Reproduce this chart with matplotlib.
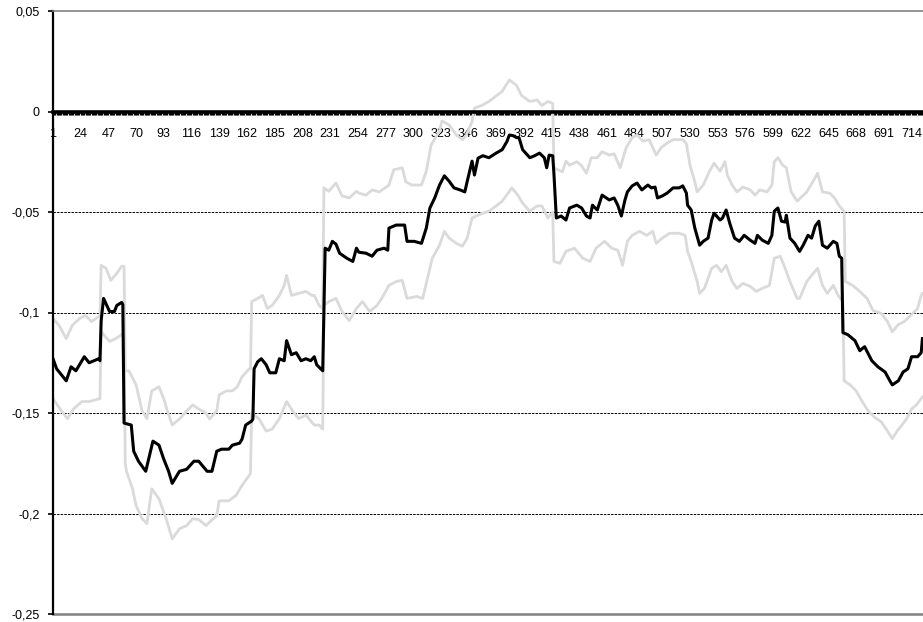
import matplotlib
matplotlib.use("Agg")
import matplotlib.pyplot as plt
import numpy as np

plt.rcParams['font.family'] = ['Liberation Sans', 'DejaVu Sans']

# series: (category index, value)
mid_x = [1, 4, 12, 16, 20, 27, 31, 39, 40, 41, 43, 48, 52, 54, 58, 59, 60, 66, 68, 72, 78, 82, 84, 89, 93, 97,
         100, 106, 112, 118, 122, 129, 133, 137, 141, 147, 150, 156, 158, 161, 166, 167, 168, 171, 174, 178, 181,
         186, 189, 193, 195, 199, 203, 207, 211, 215, 218, 220, 225, 227, 230, 233, 236, 239, 245, 250, 253, 255,
         261, 266, 270, 276, 279, 280, 286, 293, 295, 301, 307, 311, 314, 318, 322, 326, 330, 334, 339, 343, 345,
         349, 351, 354, 358, 363, 369, 374, 378, 380, 383, 386, 388, 391, 397, 401, 405, 409, 411, 413, 416, 417,
         419, 423, 427, 430, 436, 440, 444, 447, 449, 453, 457, 463, 467, 470, 473, 476, 478, 482, 486, 490, 495,
         498, 501, 503, 507, 511, 516, 521, 524, 527, 528, 531, 534, 538, 541, 545, 548, 550, 555, 557, 560, 563,
         567, 571, 575, 580, 584, 586, 590, 595, 598, 600, 603, 606, 609, 610, 613, 617, 621, 624, 628, 631, 634,
         637, 640, 644, 649, 652, 654, 656, 657, 661, 667, 671, 675, 681, 686, 692, 696, 698, 703, 707, 711, 714,
         719, 722, 723]
mid_y = [-0.123, -0.128, -0.134, -0.127, -0.129, -0.122, -0.125, -0.123, -0.124, -0.104, -0.093, -0.0995, -0.0995,
         -0.0965, -0.095, -0.096, -0.155, -0.156, -0.169, -0.174, -0.179, -0.169, -0.164, -0.166, -0.173, -0.179,
         -0.185, -0.179, -0.178, -0.174, -0.174, -0.179, -0.179, -0.169, -0.168, -0.168, -0.166, -0.165, -0.163,
         -0.156, -0.154, -0.153, -0.128, -0.1245, -0.123, -0.126, -0.130, -0.130, -0.123, -0.124, -0.114, -0.121,
         -0.120, -0.124, -0.123, -0.124, -0.122, -0.126, -0.129, -0.068, -0.069, -0.0646, -0.066, -0.0705, -0.073,
         -0.0746, -0.068, -0.070, -0.0705, -0.072, -0.069, -0.068, -0.069, -0.058, -0.0565, -0.0565, -0.0646,
         -0.0646, -0.0656, -0.058, -0.048, -0.043, -0.0366, -0.032, -0.0347, -0.038, -0.039, -0.040, -0.0347,
         -0.0247, -0.0316, -0.0232, -0.022, -0.023, -0.0207, -0.019, -0.0149, -0.0117, -0.012, -0.013, -0.013,
         -0.019, -0.023, -0.022, -0.0207, -0.023, -0.028, -0.0217, -0.022, -0.031, -0.053, -0.052, -0.054, -0.048,
         -0.0466, -0.048, -0.052, -0.053, -0.0466, -0.049, -0.0416, -0.044, -0.043, -0.0466, -0.052, -0.044,
         -0.040, -0.037, -0.0356, -0.039, -0.0366, -0.038, -0.0376, -0.043, -0.042, -0.0406, -0.038, -0.038,
         -0.037, -0.0406, -0.0466, -0.049, -0.058, -0.0665, -0.0646, -0.063, -0.054, -0.0506, -0.054, -0.053,
         -0.049, -0.0556, -0.063, -0.0646, -0.0616, -0.064, -0.0656, -0.0616, -0.064, -0.0656, -0.0616, -0.0496,
         -0.048, -0.0546, -0.055, -0.0516, -0.063, -0.0656, -0.0696, -0.0665, -0.0616, -0.063, -0.057, -0.0546,
         -0.0665, -0.068, -0.0646, -0.0656, -0.072, -0.073, -0.110, -0.111, -0.114, -0.119, -0.117, -0.124,
         -0.127, -0.1296, -0.134, -0.136, -0.134, -0.1296, -0.128, -0.122, -0.122, -0.120, -0.113]

up_x = [1, 6, 12, 17, 23, 28, 33, 39, 40, 41, 45, 49, 54, 58, 60, 61, 64, 70, 75, 79, 83, 89, 93, 96, 100, 106,
        112, 117, 122, 128, 131, 137, 139, 145, 150, 154, 158, 164, 165, 166, 171, 175, 179, 183, 189, 193, 195,
        199, 205, 211, 216, 218, 222, 225, 226, 230, 236, 241, 247, 253, 255, 261, 266, 272, 280, 284, 291, 294,
        299, 307, 311, 315, 322, 324, 330, 336, 341, 344, 349, 351, 357, 363, 369, 374, 380, 386, 390, 397, 403,
        407, 412, 416, 417, 424, 427, 430, 436, 440, 444, 448, 453, 457, 463, 467, 472, 477, 482, 486, 491, 496,
        502, 506, 511, 516, 524, 527, 530, 534, 536, 541, 546, 550, 555, 559, 561, 565, 569, 574, 580, 584, 588,
        594, 598, 600, 603, 607, 610, 614, 619, 627, 632, 636, 640, 646, 650, 654, 658, 659, 665, 671, 677, 682,
        689, 694, 698, 703, 708, 714, 719, 722, 723]
up_y = [-0.103, -0.1064, -0.113, -0.1064, -0.103, -0.1015, -0.1045, -0.102, -0.102, -0.0765, -0.078, -0.084,
        -0.0805, -0.077, -0.077, -0.129, -0.129, -0.136, -0.149, -0.1528, -0.139, -0.137, -0.143, -0.149, -0.156,
        -0.153, -0.149, -0.146, -0.148, -0.150, -0.153, -0.149, -0.141, -0.139, -0.139, -0.137, -0.132, -0.128,
        -0.128, -0.0946, -0.093, -0.0915, -0.098, -0.0965, -0.0915, -0.0865, -0.0815, -0.0915, -0.0905, -0.0895,
        -0.0915, -0.0915, -0.0965, -0.098, -0.038, -0.0397, -0.0356, -0.042, -0.043, -0.0397, -0.0406, -0.0416,
        -0.039, -0.040, -0.0366, -0.029, -0.028, -0.035, -0.0366, -0.0366, -0.0297, -0.0167, -0.0097, -0.0047,
        -0.0067, -0.0117, -0.014, -0.012, -0.005, 0.0017, 0.003, 0.005, 0.0077, 0.010, 0.0157, 0.013, 0.008,
        0.005, 0.0057, 0.003, 0.005, 0.004, -0.028, -0.030, -0.0247, -0.0267, -0.025, -0.027, -0.0307, -0.023,
        -0.023, -0.020, -0.0217, -0.021, -0.028, -0.018, -0.013, -0.0117, -0.0147, -0.014, -0.0217, -0.018,
        -0.0157, -0.014, -0.014, -0.016, -0.0267, -0.035, -0.040, -0.0366, -0.030, -0.0257, -0.0297, -0.025,
        -0.0316, -0.0366, -0.040, -0.0376, -0.039, -0.0416, -0.039, -0.040, -0.0366, -0.025, -0.023, -0.0267,
        -0.028, -0.040, -0.0446, -0.040, -0.035, -0.0307, -0.040, -0.0406, -0.043, -0.047, -0.0496, -0.0846,
        -0.0865, -0.0895, -0.093, -0.099, -0.1005, -0.1045, -0.1096, -0.106, -0.1045, -0.101, -0.098, -0.0915,
        -0.0905]

lo_x = [1, 8, 13, 18, 25, 31, 39, 40, 41, 48, 53, 58, 60, 61, 62, 67, 70, 75, 79, 83, 89, 95, 100, 106, 112, 117,
        122, 128, 137, 139, 147, 153, 158, 164, 165, 166, 172, 178, 183, 189, 195, 200, 205, 211, 218, 222, 225,
        226, 230, 236, 241, 247, 253, 258, 264, 270, 274, 280, 286, 291, 295, 303, 308, 312, 316, 322, 326, 330,
        336, 341, 345, 349, 354, 358, 363, 369, 374, 379, 382, 387, 391, 397, 403, 407, 412, 416, 417, 422, 427,
        434, 441, 447, 452, 459, 465, 470, 474, 478, 482, 488, 494, 499, 502, 507, 513, 521, 526, 528, 531, 536,
        538, 542, 548, 552, 556, 560, 565, 569, 574, 580, 585, 590, 596, 600, 605, 609, 613, 619, 621, 627, 631,
        636, 640, 644, 649, 653, 657, 658, 663, 668, 673, 678, 683, 689, 694, 698, 702, 706, 710, 714, 718, 722,
        723]
lo_y = [-0.1428, -0.149, -0.1528, -0.148, -0.1443, -0.1443, -0.143, -0.143, -0.1096, -0.1144, -0.113, -0.111,
        -0.111, -0.175, -0.179, -0.1877, -0.196, -0.2026, -0.205, -0.1877, -0.1927, -0.2026, -0.2126, -0.2076,
        -0.206, -0.2026, -0.203, -0.206, -0.201, -0.1937, -0.1937, -0.191, -0.186, -0.181, -0.180, -0.150,
        -0.1528, -0.159, -0.158, -0.1528, -0.1443, -0.149, -0.1528, -0.151, -0.156, -0.156, -0.158, -0.0965,
        -0.0946, -0.093, -0.0995, -0.104, -0.098, -0.0946, -0.0995, -0.0965, -0.093, -0.0865, -0.0846, -0.084,
        -0.093, -0.092, -0.093, -0.083, -0.073, -0.0665, -0.0596, -0.063, -0.0656, -0.067, -0.063, -0.053,
        -0.0516, -0.0506, -0.0496, -0.047, -0.0446, -0.0406, -0.038, -0.0416, -0.0456, -0.0496, -0.047, -0.047,
        -0.053, -0.050, -0.0746, -0.0755, -0.0696, -0.068, -0.073, -0.0746, -0.068, -0.0646, -0.068, -0.069,
        -0.0765, -0.0646, -0.0616, -0.0596, -0.0616, -0.0596, -0.0656, -0.063, -0.0606, -0.0606, -0.0616,
        -0.0696, -0.0746, -0.0846, -0.0905, -0.088, -0.078, -0.0765, -0.0797, -0.0765, -0.0846, -0.088, -0.0855,
        -0.087, -0.0895, -0.088, -0.0865, -0.073, -0.072, -0.078, -0.0846, -0.093, -0.093, -0.0846, -0.0815,
        -0.078, -0.0865, -0.0905, -0.0865, -0.0915, -0.0946, -0.134, -0.136, -0.139, -0.1443, -0.149, -0.152,
        -0.1545, -0.159, -0.1628, -0.159, -0.156, -0.1528, -0.148, -0.146, -0.1428, -0.142]

x_ticks = list(range(1, 715, 23))
y_ticks = [0.05, 0, -0.05, -0.1, -0.15, -0.2, -0.25]
y_labels = ['0,05', '0', '-0,05', '-0,1', '-0,15', '-0,2', '-0,25']

fig = plt.figure(figsize=(9.23, 6.22), dpi=100)
fig.set_facecolor('white')
ax = fig.add_axes([53 / 923, 8 / 622, 870 / 923, 603 / 622])

ax.plot(up_x, up_y, color='#dadada', lw=2.0, zorder=2)
ax.plot(lo_x, lo_y, color='#dadada', lw=2.0, zorder=2)
ax.plot(mid_x, mid_y, color='black', lw=2.2, zorder=3)

ax.set_xlim(1, 723.5)
ax.set_ylim(-0.25, 0.05)

# dashed gridlines
for g in [-0.05, -0.1, -0.15, -0.2]:
    ax.axhline(g, color='black', lw=0.7, ls=(0, (2.5, 1.2)), zorder=1)

# category axis crosses at 0
ax.spines['bottom'].set_position(('data', 0))
ax.spines['bottom'].set_linewidth(2.6)
ax.spines['bottom'].set_zorder(4)
ax.spines['left'].set_linewidth(1.6)
ax.spines['top'].set_color('#808080')
ax.spines['top'].set_linewidth(1.2)
ax.spines['right'].set_visible(False)
ax.axhline(-0.25, color='#808080', lw=1.8, clip_on=False, zorder=1)

ax.set_xticks(x_ticks)
ax.set_xticklabels([str(t) for t in x_ticks])
ax.set_xticks(np.arange(1, 724), minor=True)
ax.tick_params(axis='x', which='major', direction='out', length=2.2, width=0.8, pad=9.5, labelsize=9)
ax.tick_params(axis='x', which='minor', direction='out', length=2.2, width=0.9)

ax.set_yticks(y_ticks)
ax.set_yticklabels(y_labels)
ax.tick_params(axis='y', direction='out', length=3.5, width=1.2, pad=6, labelsize=9)

plt.savefig('out.png', dpi=100, facecolor='white')
